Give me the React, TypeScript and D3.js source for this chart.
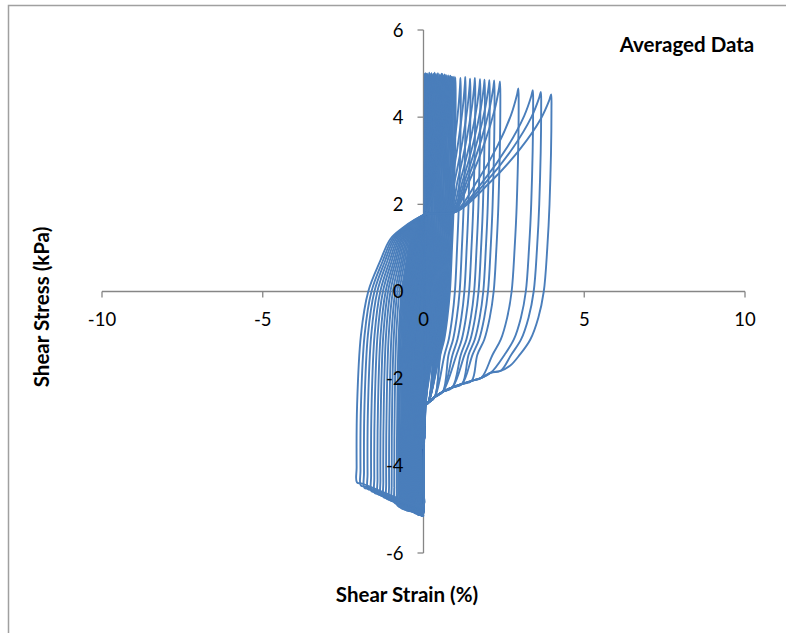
import React from "react";
import * as d3 from "d3";

// ---- data ----
const strainTicks = [-10, -5, 0, 5, 10];
const stressTicks = [-6, -4, -2, 0, 2, 4, 6];

// one entry per loading cycle, in order of growing strain amplitude
const cycleMaxStrain = [
  0.04, 0.06, 0.08, 0.1,
  0.12, 0.15, 0.18, 0.21, 0.25, 0.28, 0.31, 0.35, 0.38, 0.42, 0.45, 0.49, 0.52,
  0.56, 0.59, 0.63, 0.66, 0.7, 0.73, 0.77, 0.8, 0.84, 0.87, 0.91, 0.95, 0.99,
  1.15, 1.3, 1.45, 1.6, 1.76, 1.9, 2.05, 2.2, 2.38, 2.95, 3.4, 3.65, 3.97,
];
const cycleMinStrain = [
  -0.01, -0.02, -0.02, -0.03,
  -0.04, -0.07, -0.1, -0.13, -0.16, -0.19, -0.22, -0.25, -0.28, -0.31, -0.34,
  -0.37, -0.4, -0.43, -0.46, -0.49, -0.52, -0.55, -0.58, -0.61, -0.64, -0.67,
  -0.7, -0.74, -0.78, -0.82,
  -0.9, -0.98, -1.06, -1.15, -1.24, -1.33, -1.42, -1.52, -1.62, -1.73, -1.84,
  -1.95, -2.07,
];
const cyclePeakStress = [
  4.99, 5.01, 4.98, 5.0,
  5.0, 4.98, 5.02, 4.99, 5.01, 4.97, 5.0, 5.02, 4.98, 4.99, 5.01, 4.98, 4.97,
  5.0, 4.99, 4.96, 4.98, 4.97, 4.95, 4.96, 4.94, 4.95, 4.93, 4.92, 4.93, 4.91,
  4.9, 4.92, 4.88, 4.9, 4.87, 4.86, 4.85, 4.84, 4.82, 4.66, 4.62, 4.58, 4.52,
];
const cycleTroughStress = [
  -5.1, -5.12, -5.11, -5.09,
  -5.1, -5.12, -5.08, -5.1, -5.07, -5.09, -5.05, -5.06, -5.04, -5.05, -5.02,
  -5.03, -5.0, -5.01, -4.99, -5.0, -4.98, -4.97, -4.99, -4.96, -4.97, -4.95,
  -4.96, -4.94, -4.92, -4.9,
  -4.85, -4.8, -4.78, -4.75, -4.72, -4.68, -4.65, -4.62, -4.58, -4.53, -4.5,
  -4.45, -4.38,
];
const cycleDropStress = [
  -5.11, -5.13, -5.1, -5.12,
  -5.12, -5.1, -5.13, -5.09, -5.11, -5.1, -5.08, -5.12, -5.07, -5.1, -5.09,
  -5.06, -5.08, -5.05, -5.07, -5.04, -5.06, -5.03, -5.05, -5.02, -5.04, -5.01,
  -5.03, -5.0, -5.02, -4.99,
  -5.0, -4.98, -4.99, -4.97, -4.96, -4.97, -4.95, -4.94, -4.95, -4.93, -4.92,
  -4.93, -4.9,
];
const cycleLoadStrain = [
  0.02, 0.03, 0.05, 0.07,
  0.1, 0.1, 0.1, 0.1, 0.1, 0.1, 0.1, 0.1, 0.1, 0.1, 0.1, 0.1, 0.1, 0.1, 0.1,
  0.1, 0.1, 0.1, 0.1, 0.1, 0.1, 0.1, 0.1, 0.1, 0.1, 0.1,
  0.6, 0.66, 0.72, 0.78, 0.82, 0.86, 0.88, 0.9, 0.92, 0.95, 0.97, 0.98, 0.98,
];
// common lower unloading path on the positive side (strain, stress)
const unloadBaseStrain = [3.3, 3.0, 2.7, 2.4, 2.1, 1.8, 1.5, 1.2, 0.9, 0.6, 0.35, 0.15, 0.05];
const unloadBaseStress = [-1.6, -1.66, -1.7, -1.82, -1.86, -1.98, -2.05, -2.12, -2.2, -2.3, -2.42, -2.55, -2.62];
const kneeStress = 1.82;

// ---- layout ----
const W = 786;
const H = 633;
const x = d3.scaleLinear().domain([-10, 10]).range([102, 745]);
const y = d3.scaleLinear().domain([-6, 6]).range([553, 30]);

const loadU = [0, 0.36, 0.68, 0.89, 0.98, 1];
const loadV = [0, 0.25, 0.54, 0.79, 0.95, 1];

function loopPoints(k: number): [number, number][] {
  const a = cycleMinStrain[k];
  const b = cycleMaxStrain[k];
  const P = cyclePeakStress[k];
  const T = cycleTroughStress[k];
  const D = cycleDropStress[k];
  const x0 = cycleLoadStrain[k];
  const w = -a;
  const pts: [number, number][] = [];
  pts.push([a, T]);
  pts.push([a - 0.01, T + 0.35]);
  pts.push([a + 0.005, -2.6]);
  pts.push([a + 0.06 * w, -1.0]);
  pts.push([a + 0.17 * w, 0]);
  pts.push([a + 0.35 * w, 0.7]);
  pts.push([a + 0.5 * w, 1.2]);
  pts.push([a + 0.68 * w, 1.45]);
  pts.push([a + 0.87 * w, 1.65]);
  if (x0 > 0.12) pts.push([0.1, 1.78]);
  for (let i = 0; i < loadU.length; i++) {
    pts.push([x0 + loadU[i] * (b - x0), kneeStress + loadV[i] * (P - kneeStress)]);
  }
  const s = Math.min(1, b);
  pts.push([b + 0.01, P - 0.35]);
  pts.push([b - 0.05 * s, 2.0]);
  pts.push([b - (0.1 + 0.005 * b) * s, 1.0]);
  pts.push([b - (0.15 + 0.02 * b) * s, 0]);
  pts.push([b - (0.2 + 0.05 * b) * s, -0.6]);
  pts.push([b - (0.25 + 0.1 * b) * s, -1.1]);
  const lastX = b - (0.3 + 0.17 * b) * s;
  pts.push([lastX, -1.45]);
  for (let i = 0; i < unloadBaseStrain.length; i++) {
    if (unloadBaseStrain[i] < lastX - 0.15) pts.push([unloadBaseStrain[i], unloadBaseStress[i]]);
  }
  pts.push([0.02, -3.3]);
  pts.push([0.0, D + 0.35]);
  pts.push([-0.02, D]);
  pts.push([a * 0.5, (D + T) / 2 - 0.03]);
  pts.push([a + 0.08 * w, T - 0.03]);
  return pts;
}

const lineGen = d3
  .line<[number, number]>()
  .x((d) => x(d[0]))
  .y((d) => y(d[1]))
  .curve(d3.curveCatmullRomClosed.alpha(0.5));

export default function App() {
  const loops = cycleMaxStrain.map((_, k) => lineGen(loopPoints(k)) || "");
  const axisColor = "#868686";
  const font = "Lato, 'Open Sans', sans-serif";
  return (
    <svg
      width={W}
      height={H}
      style={{ position: "absolute", left: 0, top: 0, background: "#fff" }}
    >
      <rect x={8.5} y={5.5} width={900} height={800} fill="#fff" stroke="#a0a0a0" strokeWidth={1.5} />
      {/* axes */}
      <line x1={x(-10)} x2={x(10)} y1={y(0)} y2={y(0)} stroke={axisColor} strokeWidth={1.3} />
      {strainTicks.map((t) => (
        <line key={"xt" + t} x1={x(t)} x2={x(t)} y1={y(0)} y2={y(0) + 6} stroke={axisColor} strokeWidth={1.3} />
      ))}
      <line x1={x(0)} x2={x(0)} y1={y(-6)} y2={y(6)} stroke={axisColor} strokeWidth={1.3} />
      {stressTicks.map((t) => (
        <line key={"yt" + t} x1={x(0) - 6} x2={x(0)} y1={y(t)} y2={y(t)} stroke={axisColor} strokeWidth={1.3} />
      ))}
      {/* loops */}
      <g fill="none" stroke="#4A7EBB" strokeWidth={1.9} strokeLinejoin="round">
        {loops.map((d, k) => (
          <path key={k} d={d} />
        ))}
      </g>
      {/* tick labels */}
      <g fontFamily={font} fontSize={18.5} fill="#000">
        {strainTicks.map((t) => (
          <text key={"xl" + t} x={x(t)} y={y(0) + 34} textAnchor="middle">
            {t}
          </text>
        ))}
        {stressTicks.map((t) => (
          <text key={"yl" + t} x={x(0) - 20} y={y(t) + 6.5} textAnchor="end">
            {t}
          </text>
        ))}
      </g>
      <g fontFamily={font} fontWeight="bold" fontSize={20.5} fill="#000">
        <text x={687} y={52} textAnchor="middle">Averaged Data</text>
        <text x={407} y={602} textAnchor="middle">Shear Strain (%)</text>
        <text x={49} y={307} textAnchor="middle" transform="rotate(-90 49 307)">
          Shear Stress (kPa)
        </text>
      </g>
    </svg>
  );
}
